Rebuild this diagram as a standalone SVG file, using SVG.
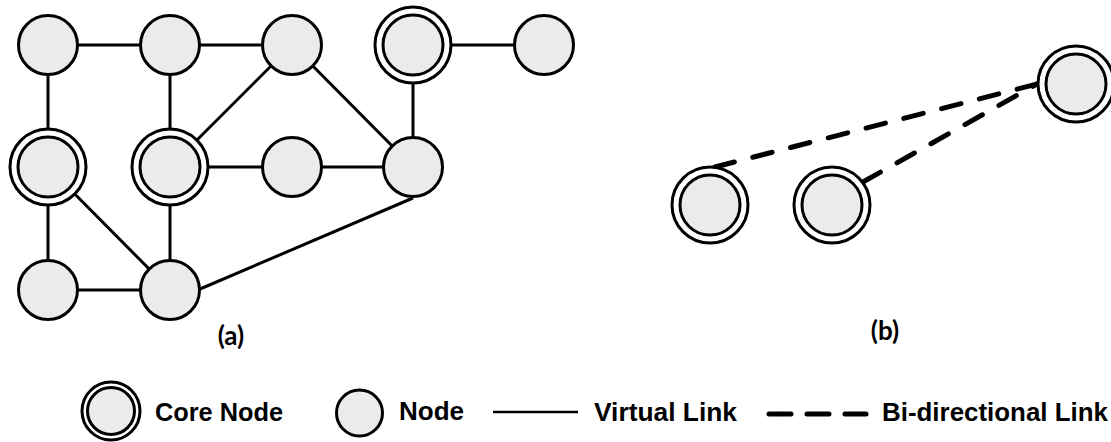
<svg xmlns="http://www.w3.org/2000/svg" width="1111" height="442" viewBox="0 0 1111 442">
<style>
.edge{stroke:#000;stroke-width:3;fill:none}
.dash{stroke:#000;stroke-width:5;fill:none;stroke-dasharray:20 19;stroke-linecap:round}
.node{fill:#ebebeb;stroke:#000;stroke-width:3}
.ring{fill:#fff;stroke:#000;stroke-width:3}
.lbl{font-family:Lato,"Liberation Sans",sans-serif;font-weight:bold;font-size:26px;fill:#000}
.leg{font-family:"Liberation Sans",Arial,sans-serif;font-weight:bold;font-size:25px;fill:#000}
</style>
<rect width="1111" height="442" fill="#fff"/>
<g id="connectors">
<line class="edge" x1="48" y1="45" x2="170" y2="45"/>
<line class="edge" x1="170" y1="45" x2="292" y2="45"/>
<line class="edge" x1="48" y1="45" x2="48" y2="167"/>
<line class="edge" x1="170" y1="45" x2="170" y2="167"/>
<line class="edge" x1="292" y1="45" x2="170" y2="167"/>
<line class="edge" x1="292" y1="45" x2="413" y2="167"/>
<line class="edge" x1="413" y1="45" x2="544" y2="45"/>
<line class="edge" x1="413" y1="45" x2="413" y2="167"/>
<line class="edge" x1="170" y1="167" x2="292" y2="167"/>
<line class="edge" x1="292" y1="167" x2="413" y2="167"/>
<line class="edge" x1="48" y1="167" x2="48" y2="290"/>
<line class="edge" x1="48" y1="167" x2="170" y2="290"/>
<line class="edge" x1="170" y1="167" x2="170" y2="290"/>
<line class="edge" x1="48" y1="290" x2="170" y2="290"/>
<line class="edge" x1="200" y1="289" x2="413" y2="198"/>
<line class="dash" x1="715" y1="167" x2="1037" y2="84"/>
<line class="dash" x1="863" y1="182" x2="1037" y2="84"/>
</g>
<g id="n1"><circle class="node" cx="48" cy="45" r="29.5"/></g>
<g id="n2"><circle class="node" cx="170" cy="45" r="29.5"/></g>
<g id="n3"><circle class="node" cx="292" cy="45" r="29.5"/></g>
<g id="n4"><circle class="ring" cx="413" cy="45" r="38"/><circle class="node" cx="413" cy="45" r="30"/></g>
<g id="n5"><circle class="node" cx="544" cy="45" r="29.5"/></g>
<g id="n6"><circle class="ring" cx="48" cy="167" r="38"/><circle class="node" cx="48" cy="167" r="30"/></g>
<g id="n7"><circle class="ring" cx="170" cy="167" r="38"/><circle class="node" cx="170" cy="167" r="30"/></g>
<g id="n8"><circle class="node" cx="292" cy="167" r="29.5"/></g>
<g id="n9"><circle class="node" cx="413" cy="167" r="29.5"/></g>
<g id="n10"><circle class="node" cx="48" cy="290" r="29.5"/></g>
<g id="n11"><circle class="node" cx="170" cy="290" r="29.5"/></g>
<g id="b1"><circle class="ring" cx="710" cy="205" r="38"/><circle class="node" cx="710" cy="205" r="30"/></g>
<g id="b2"><circle class="ring" cx="832" cy="205" r="38"/><circle class="node" cx="832" cy="205" r="30"/></g>
<g id="b3"><circle class="ring" cx="1076" cy="84" r="38"/><circle class="node" cx="1076" cy="84" r="30"/></g>
<text class="lbl" x="231" y="345" text-anchor="middle">(a)</text>
<text class="lbl" x="885" y="340" text-anchor="middle">(b)</text>
<g id="legend">
<g id="leg-core"><circle class="ring" cx="111" cy="411" r="29" stroke-width="2.5"/><circle class="node" cx="111" cy="411" r="23.5" stroke-width="2.5"/></g>
<text class="leg" x="155" y="421" textLength="128" lengthAdjust="spacingAndGlyphs">Core Node</text>
<g id="leg-node"><circle class="node" cx="359.5" cy="413" r="23" stroke-width="2.5"/></g>
<text class="leg" x="399" y="420" textLength="65" lengthAdjust="spacingAndGlyphs">Node</text>
<line x1="493" y1="412" x2="578" y2="412" stroke="#000" stroke-width="2.5"/>
<text class="leg" x="594" y="421" textLength="143" lengthAdjust="spacingAndGlyphs">Virtual Link</text>
<line x1="769" y1="414" x2="866" y2="414" stroke="#000" stroke-width="5" stroke-linecap="round" stroke-dasharray="22 16"/>
<text class="leg" x="882" y="421" textLength="226" lengthAdjust="spacingAndGlyphs">Bi-directional Link</text>
</g>
</svg>
